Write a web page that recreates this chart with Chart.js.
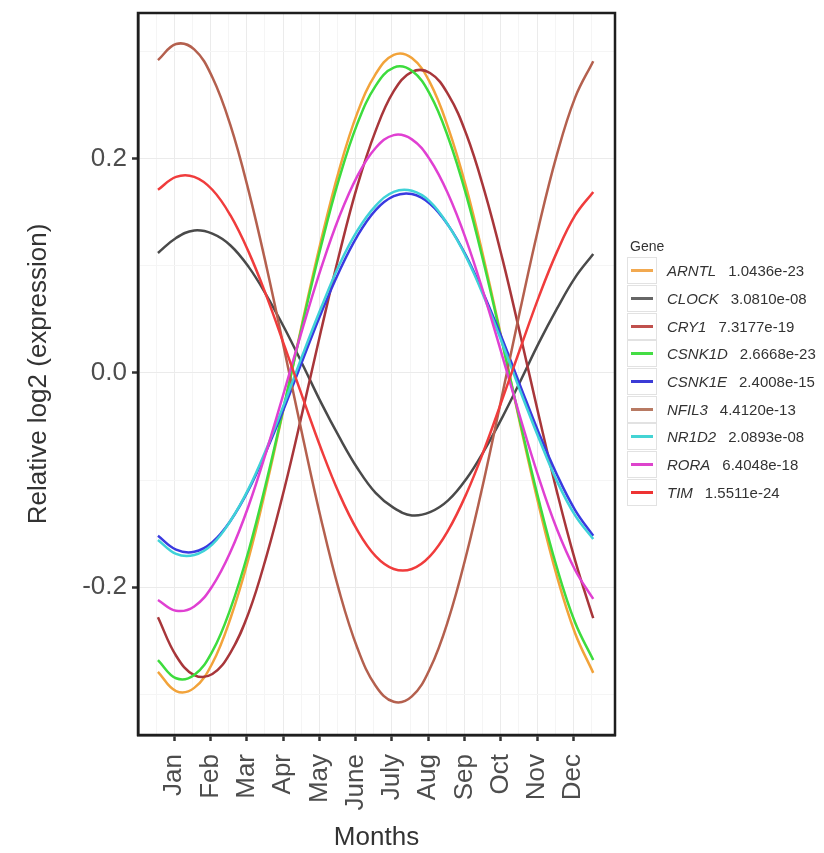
<!DOCTYPE html>
<html>
<head>
<meta charset="utf-8">
<script src="https://cdn.jsdelivr.net/npm/chart.js@4.4.1/dist/chart.umd.min.js"></script>
<style>
  body { margin: 0; background: #fff; }
  #wrap { position: relative; width: 824px; height: 853px; }
  #legend {
    position: absolute; left: 627px; top: 238px;
    font-family: 'Liberation Sans', Arial, sans-serif; font-size: 15px; color: #333;
  }
  #legend .title { font-size: 14px; margin: 0 0 3px 3px; }
  #legend .row { display: flex; align-items: center; height: 27.7px; }
  #legend .key {
    width: 28px; height: 25px; border: 1px solid #e2e2e2; margin-right: 10px;
    display: flex; align-items: center; justify-content: center;
  }
  #legend .key span { display: block; width: 22px; height: 3px; }
  #legend i { margin-right: 12px; }
</style>
</head>
<body>
<div id="wrap">
  <canvas id="geneChart" width="824" height="853"></canvas>
  <div id="legend"><div class="title">Gene</div></div>
</div>
<script>
// x positions (month number) where each fitted curve was read, every half month
const monthPos = [0.55, 1.05, 1.55, 2.05, 2.55, 3.05, 3.55, 4.05, 4.55, 5.05, 5.55, 6.05, 6.55,
                  7.05, 7.55, 8.05, 8.55, 9.05, 9.55, 10.05, 10.55, 11.05, 11.55, 12.05, 12.55];
const monthLabels = ['Jan', 'Feb', 'Mar', 'Apr', 'May', 'June', 'July', 'Aug', 'Sep', 'Oct', 'Nov', 'Dec'];
const yTicks = [-0.3, -0.2, -0.1, 0, 0.1, 0.2, 0.3];
const yLabels = { '-0.2': '-0.2', '0': '0.0', '0.2': '0.2' };

const genes = ['ARNTL', 'CLOCK', 'CRY1', 'CSNK1D', 'CSNK1E', 'NFIL3', 'NR1D2', 'RORA', 'TIM'];
const pValues = ['1.0436e-23', '3.0810e-08', '7.3177e-19', '2.6668e-23', '2.4008e-15', '4.4120e-13', '2.0893e-08', '6.4048e-18', '1.5511e-24'];
const lineColors = ['#f2a33a', '#4a4a4a', '#a8363a', '#3ddc3d', '#3a3ae0', '#b4604e', '#3fd2d8', '#e040d2', '#f03c3c'];
const keyColors = ['#f2a950', '#666666', '#c0504d', '#44dd44', '#3b3bd6', '#b87a63', '#44d4d4', '#dd44cc', '#ee3333'];

const arntl  = [-0.279, -0.297, -0.294, -0.271, -0.229, -0.173, -0.104, -0.028, 0.050, 0.124, 0.190, 0.243,
                0.279, 0.297, 0.294, 0.271, 0.229, 0.173, 0.104, 0.028, -0.050, -0.124, -0.190, -0.243, -0.280];
const clock  = [0.112, 0.126, 0.133, 0.130, 0.119, 0.099, 0.072, 0.041, 0.007, -0.028, -0.060, -0.089,
                -0.112, -0.126, -0.133, -0.130, -0.119, -0.099, -0.072, -0.041, -0.007, 0.028, 0.060, 0.089, 0.111];
const cry1   = [-0.228, -0.264, -0.282, -0.281, -0.261, -0.224, -0.170, -0.106, -0.034, 0.040, 0.111, 0.175,
                0.226, 0.263, 0.281, 0.280, 0.260, 0.223, 0.170, 0.106, 0.034, -0.040, -0.111, -0.175, -0.229];
const csnk1d = [-0.268, -0.285, -0.282, -0.260, -0.220, -0.166, -0.100, -0.027, 0.048, 0.119, 0.182, 0.233,
                0.268, 0.285, 0.282, 0.260, 0.220, 0.166, 0.100, 0.027, -0.048, -0.119, -0.182, -0.233, -0.268];
const csnk1e = [-0.152, -0.165, -0.167, -0.158, -0.138, -0.109, -0.072, -0.031, 0.013, 0.056, 0.095, 0.128,
                0.152, 0.165, 0.167, 0.158, 0.138, 0.109, 0.072, 0.031, -0.013, -0.056, -0.095, -0.128, -0.152];
const nfil3  = [0.292, 0.307, 0.302, 0.276, 0.231, 0.170, 0.098, 0.019, -0.061, -0.137, -0.204, -0.257,
                -0.292, -0.307, -0.302, -0.276, -0.231, -0.170, -0.098, -0.019, 0.061, 0.137, 0.204, 0.257, 0.291];
const nr1d2  = [-0.156, -0.169, -0.170, -0.160, -0.138, -0.108, -0.070, -0.027, 0.018, 0.061, 0.101, 0.133,
                0.156, 0.169, 0.170, 0.160, 0.138, 0.108, 0.070, 0.027, -0.018, -0.061, -0.101, -0.133, -0.155];
const rora   = [-0.212, -0.222, -0.218, -0.199, -0.167, -0.124, -0.072, -0.015, 0.043, 0.098, 0.146, 0.184,
                0.210, 0.222, 0.218, 0.199, 0.167, 0.124, 0.072, 0.015, -0.043, -0.098, -0.146, -0.184, -0.211];
const tim    = [0.171, 0.183, 0.183, 0.171, 0.147, 0.113, 0.071, 0.024, -0.024, -0.071, -0.113, -0.147,
                -0.171, -0.183, -0.183, -0.171, -0.147, -0.113, -0.071, -0.024, 0.024, 0.071, 0.113, 0.147, 0.169];

const series = [arntl, clock, cry1, csnk1d, csnk1e, nfil3, nr1d2, rora, tim];

const datasets = series.map((vals, i) => ({
    label: genes[i],
    data: vals.map((v, j) => ({ x: monthPos[j], y: v })),
    borderColor: lineColors[i],
    borderWidth: 2.5,
    pointRadius: 0,
    tension: 0.4,
    fill: false,
    order: series.length - i // ggplot draws the last gene on top
}));

// panel border on all four sides
const panelBorder = {
    id: 'panelBorder',
    afterDraw(chart) {
        const { ctx, chartArea: a } = chart;
        ctx.save();
        ctx.strokeStyle = '#1e1e1e';
        ctx.lineWidth = 2.5;
        ctx.strokeRect(a.left, a.top, a.right - a.left, a.bottom - a.top);
        ctx.restore();
    }
};

const font = 'Liberation Sans';

new Chart(document.getElementById('geneChart').getContext('2d'), {
    type: 'line',
    data: { datasets },
    options: {
        responsive: false,
        animation: false,
        layout: { padding: { left: 0, top: 13, right: 209, bottom: 0 } },
        plugins: { legend: { display: false }, tooltip: { enabled: false } },
        scales: {
            x: {
                type: 'linear',
                min: 0,
                max: 13.15,
                afterBuildTicks(scale) {
                    const t = [];
                    for (let k = 1; k <= 25; k++) t.push({ value: k / 2 });
                    scale.ticks = t;
                },
                afterFit(scale) {
                    scale.height = 118;
                    scale.paddingLeft = 0;
                    scale.paddingRight = 0;
                },
                ticks: {
                    autoSkip: false,
                    minRotation: 90,
                    maxRotation: 90,
                    padding: 13,
                    color: '#4d4d4d',
                    font: { family: font, size: 26 },
                    callback: (v) => Number.isInteger(v) && v >= 1 && v <= 12 ? monthLabels[v - 1] : ''
                },
                grid: {
                    color: (c) => Number.isInteger(c.tick && c.tick.value) ? '#ebebeb' : '#f5f5f5',
                    tickColor: (c) => Number.isInteger(c.tick && c.tick.value) ? '#333' : 'rgba(0,0,0,0)',
                    tickLength: 6,
                    tickWidth: 2.5
                },
                border: { display: true, color: '#1e1e1e', width: 2.5 },
                title: {
                    display: true,
                    text: 'Months',
                    color: '#333',
                    font: { family: font, size: 26 },
                    padding: { top: 0, bottom: 0 }
                }
            },
            y: {
                min: -0.338,
                max: 0.336,
                afterBuildTicks(scale) { scale.ticks = yTicks.map(v => ({ value: v })); },
                afterFit(scale) {
                    scale.width = 138;
                    scale.paddingTop = 0;
                    scale.paddingBottom = 0;
                },
                ticks: {
                    padding: 5,
                    color: '#4d4d4d',
                    font: { family: font, size: 26 },
                    callback: (v) => yLabels[String(Math.round(v * 10) / 10)] || ''
                },
                grid: {
                    color: (c) => [-0.2, 0, 0.2].includes(c.tick && c.tick.value) ? '#ebebeb' : '#f5f5f5',
                    tickColor: (c) => [-0.2, 0, 0.2].includes(c.tick && c.tick.value) ? '#333' : 'rgba(0,0,0,0)',
                    tickLength: 6,
                    tickWidth: 2.5
                },
                border: { display: true, color: '#1e1e1e', width: 2.5 },
                title: {
                    display: true,
                    text: 'Relative log2 (expression)',
                    color: '#333',
                    font: { family: font, size: 26 },
                    padding: { top: 23, bottom: 0 }
                }
            }
        }
    },
    plugins: [panelBorder]
});

// legend with italic gene names and p-values
const legend = document.getElementById('legend');
genes.forEach((g, i) => {
    const row = document.createElement('div');
    row.className = 'row';
    row.innerHTML = '<div class="key"><span style="background:' + keyColors[i] + '"></span></div>' +
        '<i>' + g + '</i>' + pValues[i];
    legend.appendChild(row);
});
</script>
</body>
</html>
